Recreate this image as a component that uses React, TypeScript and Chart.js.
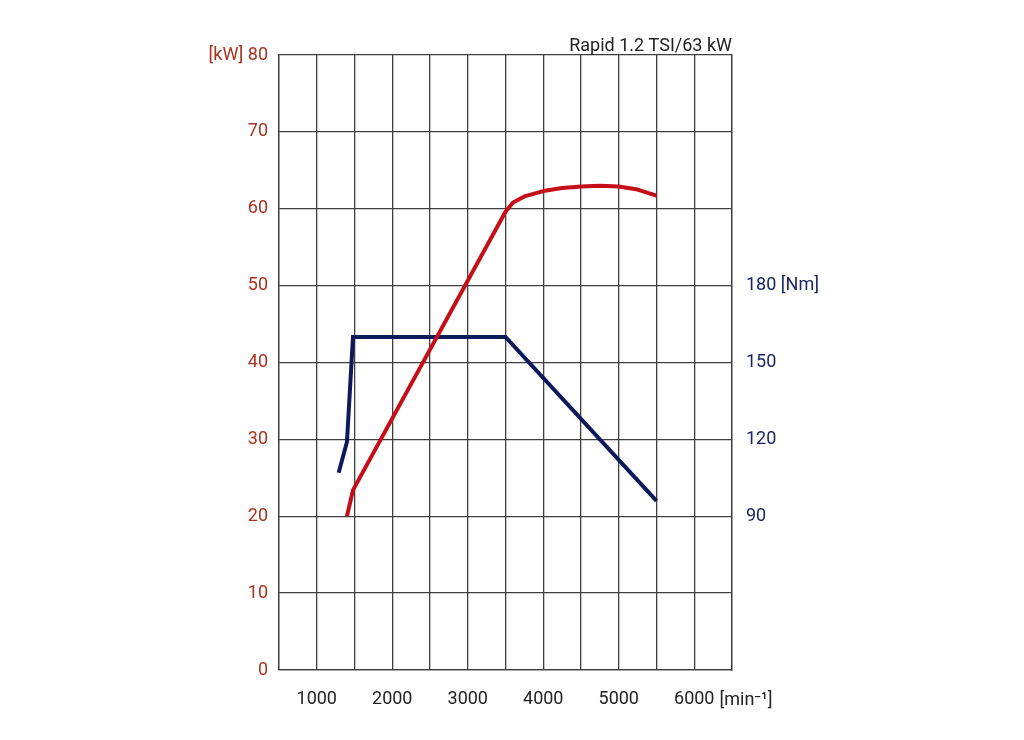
import { useEffect, useRef } from 'react';
import { Chart, registerables } from 'chart.js';

Chart.register(...registerables);

const chartTitle = 'Rapid 1.2 TSI/63 kW';
const rpmUnit = '[min⁻¹]';

// power curve (kW) against engine speed
const powerRpm = [1400, 1480, 3500, 3600, 3750, 4000, 4250, 4500, 4750, 5000, 5250, 5500];
const powerKw = [20, 23.4, 59.6, 60.8, 61.6, 62.3, 62.7, 62.9, 63.0, 62.9, 62.5, 61.7];

// torque curve (Nm) against engine speed
const torqueRpm = [1290, 1400, 1480, 3500, 5500];
const torqueNm = [107, 119, 160, 160, 96];

const rpmLabels = [1000, 2000, 3000, 4000, 5000, 6000];
const nmTicks = [90, 120, 150, 180];

const RED = '#c50f18';
const NAVY = '#0c1a5a';
const GRID = '#3f3f3f';
const FONT = 'Roboto';

export default function App() {
  const chartRef = useRef<HTMLCanvasElement>(null);
  const chartInstance = useRef<Chart | null>(null);

  useEffect(() => {
    if (!chartRef.current) return;
    if (chartInstance.current) chartInstance.current.destroy();
    const ctx = chartRef.current.getContext('2d');
    if (!ctx) return;

    // title above the plot (right aligned) and the rpm unit after the last tick
    const extraText = {
      id: 'extraText',
      afterDraw(chart: Chart) {
        const c = chart.ctx;
        const area = chart.chartArea;
        c.save();
        c.font = `18px ${FONT}`;
        c.fillStyle = '#222';
        c.textAlign = 'right';
        c.textBaseline = 'alphabetic';
        c.fillText(chartTitle, area.right, 51);
        const xs = chart.scales.x;
        const x6 = xs.getPixelForValue(6000) + c.measureText('6000').width / 2 + 5;
        c.textAlign = 'left';
        c.fillText(rpmUnit, x6, 705);
        c.restore();
      },
    };

    chartInstance.current = new Chart(ctx, {
      type: 'line',
      data: {
        datasets: [
          {
            label: 'Power',
            data: powerRpm.map((r, i) => ({ x: r, y: powerKw[i] })),
            borderColor: RED,
            borderWidth: 4,
            pointRadius: 0,
            tension: 0,
            borderJoinStyle: 'round',
            yAxisID: 'y',
          },
          {
            label: 'Torque',
            data: torqueRpm.map((r, i) => ({ x: r, y: torqueNm[i] })),
            borderColor: NAVY,
            borderWidth: 4,
            pointRadius: 0,
            tension: 0,
            yAxisID: 'y2',
          },
        ],
      },
      options: {
        animation: false,
        responsive: true,
        maintainAspectRatio: false,
        layout: { padding: { top: 55, left: 0, right: 0, bottom: 0 } },
        plugins: {
          legend: { display: false },
          title: { display: false },
          tooltip: { enabled: false },
        },
        scales: {
          x: {
            type: 'linear',
            min: 500,
            max: 6500,
            afterFit: (scale: any) => {
              scale.height = 70;
            },
            ticks: {
              stepSize: 500,
              autoSkip: false,
              maxRotation: 0,
              padding: 19,
              color: '#222',
              font: { family: FONT, size: 18 },
              callback: (v: any) => (rpmLabels.includes(Number(v)) ? String(v) : ''),
            },
            grid: { color: GRID, lineWidth: 1.3, drawTicks: false },
            border: { color: GRID, width: 1.3 },
          },
          y: {
            position: 'left',
            min: 0,
            max: 80,
            afterFit: (scale: any) => {
              scale.width = 279;
            },
            ticks: {
              stepSize: 10,
              padding: 11,
              color: '#a8321f',
              font: { family: FONT, size: 18 },
              callback: (v: any) => (Number(v) === 80 ? '[kW] 80' : String(v)),
            },
            grid: { color: GRID, lineWidth: 1.3, drawTicks: false },
            border: { color: GRID, width: 1.3 },
          },
          y2: {
            position: 'right',
            min: 30,
            max: 270,
            afterFit: (scale: any) => {
              scale.width = 1024 - 732;
            },
            afterBuildTicks: (scale: any) => {
              scale.ticks = nmTicks.map((v) => ({ value: v }));
            },
            ticks: {
              padding: 14,
              color: '#1c2466',
              font: { family: FONT, size: 18 },
              callback: (v: any) => (Number(v) === 180 ? '180 [Nm]' : String(v)),
            },
            grid: { display: false, drawTicks: false },
            border: { color: GRID, width: 1.3 },
          },
        },
      },
      plugins: [extraText],
    });

    return () => {
      if (chartInstance.current) {
        chartInstance.current.destroy();
        chartInstance.current = null;
      }
    };
  }, []);

  return (
    <div
      style={{
        position: 'fixed',
        left: 0,
        top: 0,
        width: 1024,
        height: 740,
        background: '#fff',
      }}
    >
      <canvas ref={chartRef} />
    </div>
  );
}
